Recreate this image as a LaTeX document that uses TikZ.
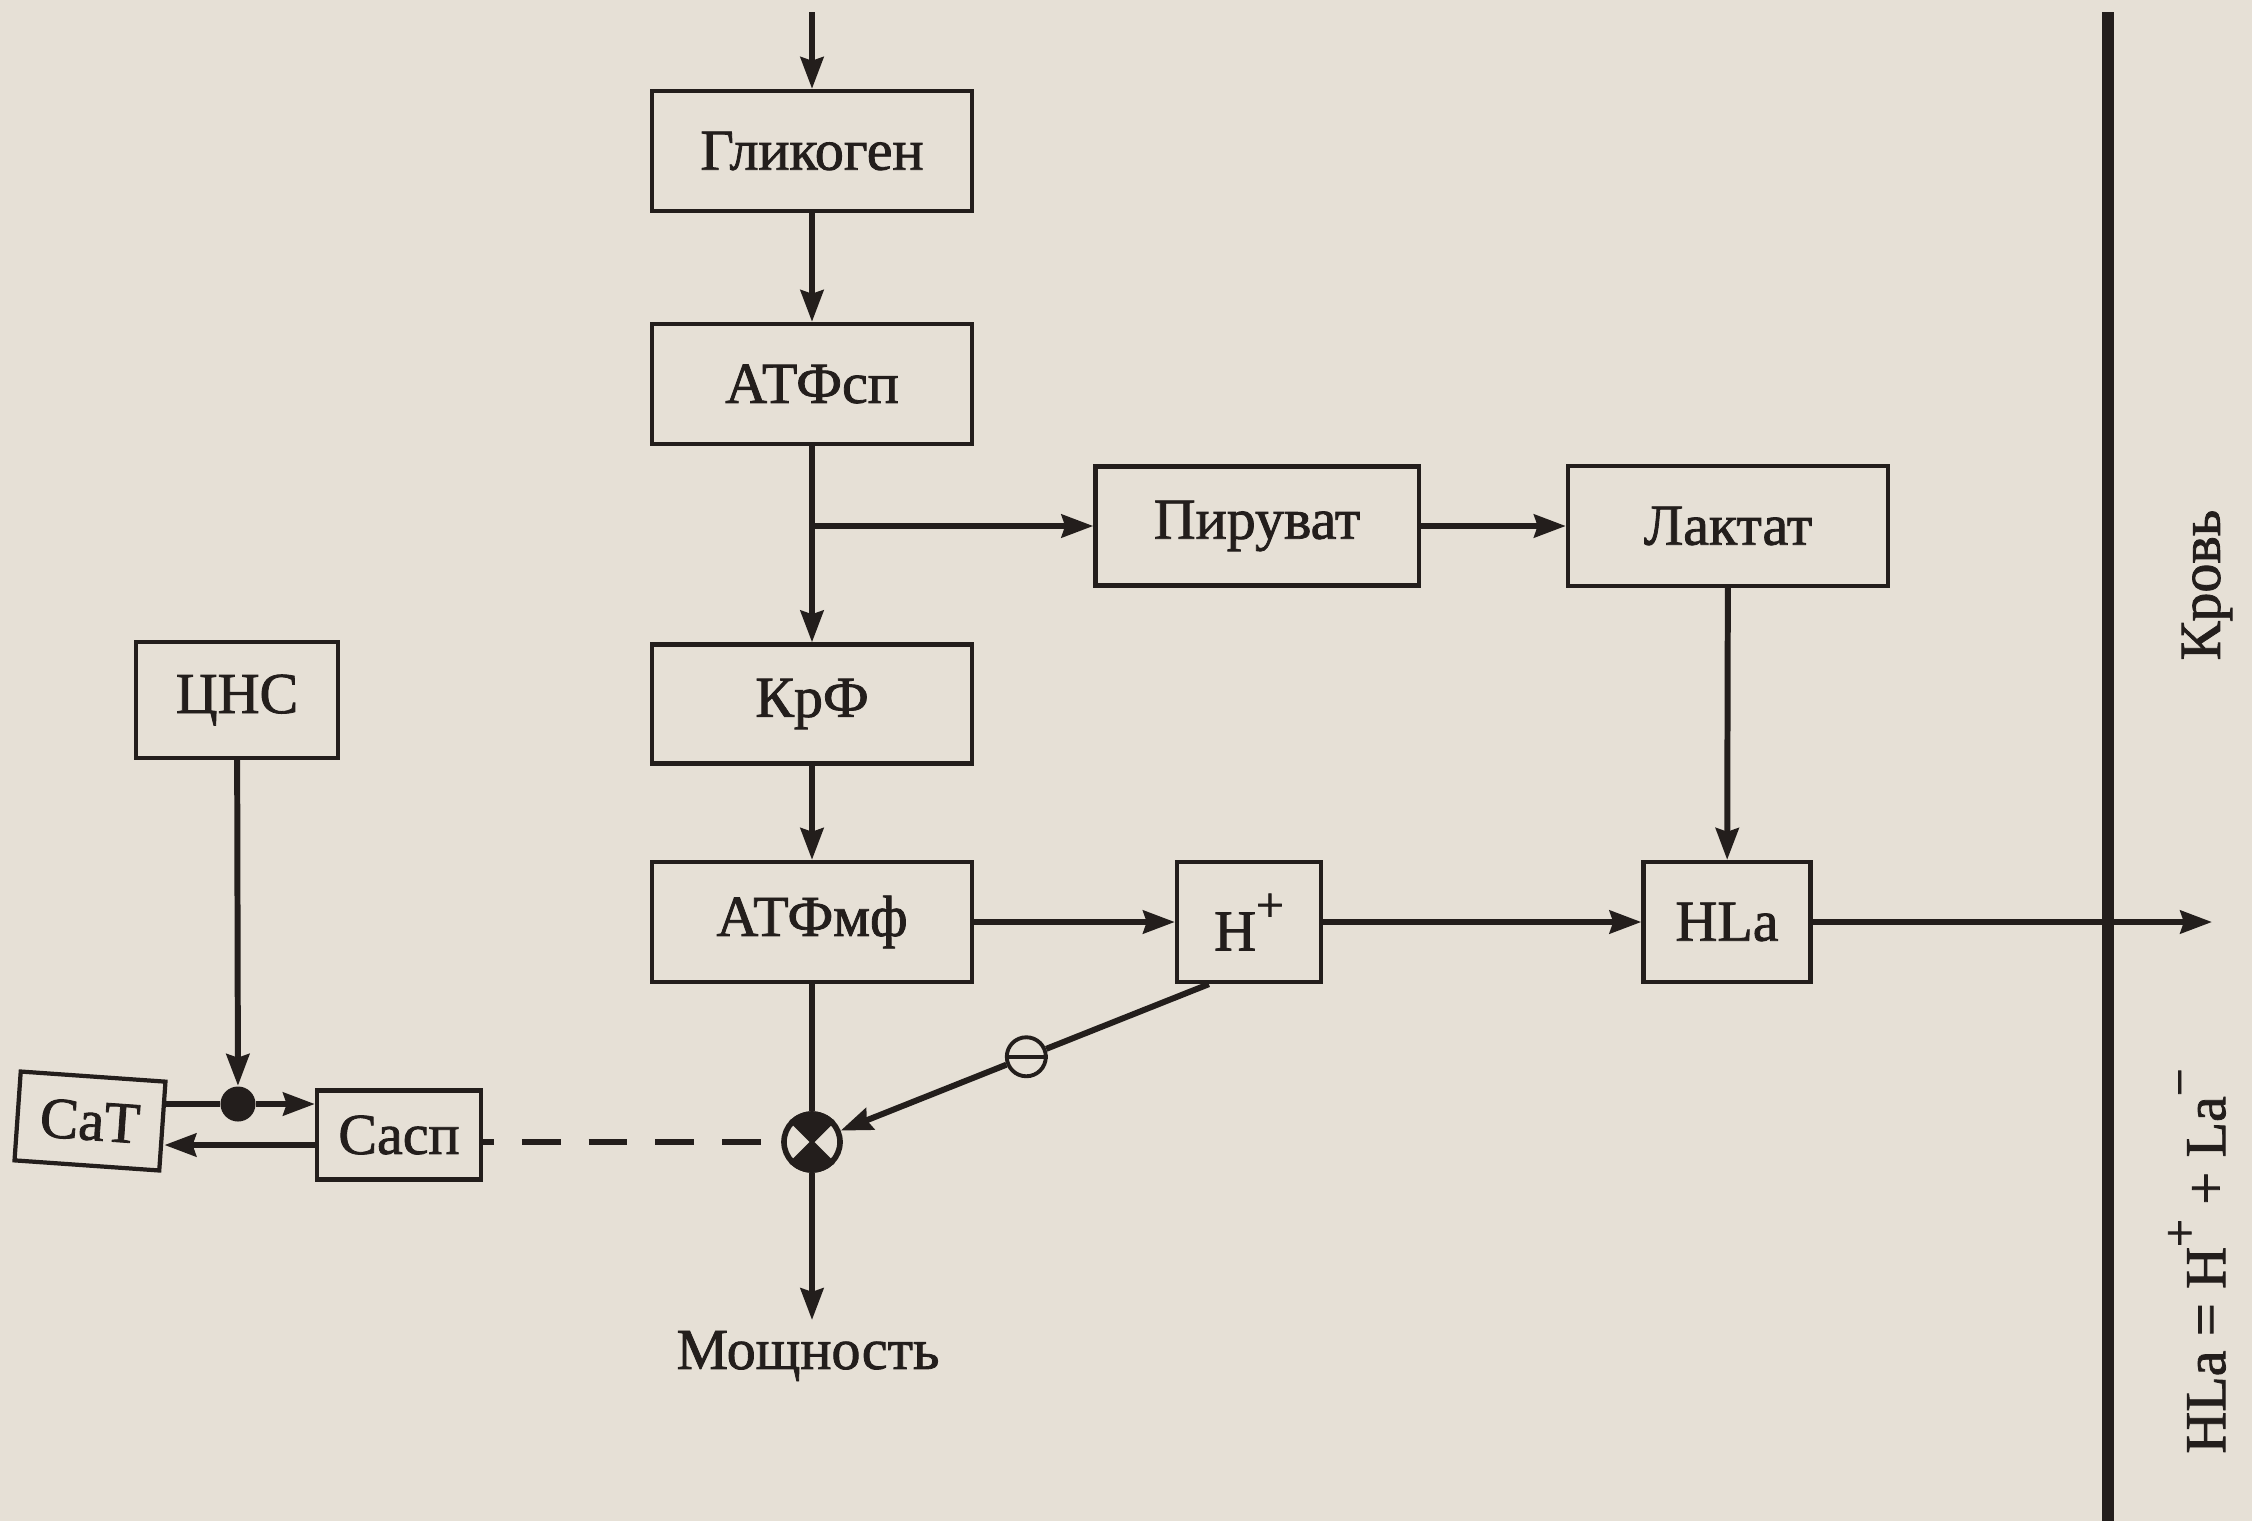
\documentclass[tikz,border=0pt]{standalone}
\usepackage{fontspec}
\setmainfont{Liberation Serif}[FakeBold=1.4]
\usetikzlibrary{arrows.meta,calc}
\definecolor{bg}{RGB}{230,224,214}
\definecolor{ink}{RGB}{35,30,28}
\newcommand\supx[1]{\raisebox{0.5em}{\fontsize{14}{14}\selectfont #1}}
\begin{document}
\begin{tikzpicture}[x=0.01cm,y=-0.01cm,
 box/.style={draw=ink,line width=1.2pt,minimum width=3.2cm,minimum height=1.2cm,inner sep=0pt,font=\fontsize{16.5}{19}\selectfont,text=ink},
 arr/.style={draw=ink,line width=1.7pt,-{Stealth[length=9pt,width=6.5pt,inset=1pt]}},
 ln/.style={draw=ink,line width=1.7pt},
 lbl/.style={font=\fontsize{16.5}{19}\selectfont,text=ink,inner sep=0pt}]
\fill[bg] (0,0) rectangle (2252,1521);
\useasboundingbox (0,0) rectangle (2252,1521);
% boxes
\node[box] (glik) at (812,151) {Гликоген};
\node[box] (atfsp) at (812,384) {АТФсп};
\node[box,minimum width=3.23cm,minimum height=1.19cm] (pir) at (1257,526) {Пируват};
\node[box] (lakt) at (1728,526) {Лактат};
\node[box,minimum height=1.19cm] (krf) at (812,704) {КрФ};
\node[box,minimum width=2.02cm,minimum height=1.16cm] (cns) at (237,700) {ЦНС};
\node[box] (atfmf) at (812,922) {АТФмф};
\node[box,minimum width=1.44cm] (hp) at (1249,922) {H\supx{+}};
\node[box,minimum width=1.67cm] (hla) at (1727,922) {HLa};
\node[box,minimum width=1.64cm,minimum height=0.89cm] (casp) at (399,1135) {Сасп};
\node[box,minimum width=1.45cm,minimum height=0.89cm,rotate=-4] (cat) at (90,1121) {CaT};
% special nodes
\node[circle,draw=ink,line width=1.6pt,fill=bg,minimum size=0.56cm,inner sep=0pt] (mix) at (812,1142) {};
\fill[ink] (mix.center) -- (mix.135) -- (mix.120) -- (mix.105) -- (mix.90) -- (mix.75) -- (mix.60) -- (mix.45) -- cycle;
\fill[ink] (mix.center) -- (mix.225) -- (mix.240) -- (mix.255) -- (mix.270) -- (mix.285) -- (mix.300) -- (mix.315) -- cycle;
\draw[ink,line width=1pt] (mix.north west) -- (mix.south east) (mix.north east) -- (mix.south west);
\node[circle,fill=ink,minimum size=0.35cm,inner sep=0pt] (dot) at (238,1104) {};
\coordinate (hps) at ($(hp.south west)+(34,0)$);
\node[circle,draw=ink,line width=1.1pt,fill=bg,minimum size=0.39cm,inner sep=0pt] (neg) at ($(hps)!0.46!(mix)$) {};
% connectors
\coordinate (top) at (812,12);
\draw[arr] (top) -- (glik);
\draw[arr] (glik) -- (atfsp);
\draw[arr] (atfsp) -- (krf);
\coordinate (br) at (812,526);
\draw[arr] (br) -- (pir);
\draw[arr] (pir) -- (lakt);
\draw[arr] (krf) -- (atfmf);
\draw[arr] (atfmf) -- (hp);
\draw[arr] (hp) -- (hla);
\draw[arr] (lakt) -- (hla);
\coordinate (out) at (2212,922);
\draw[arr] (hla) -- (out);
\draw[ln] (atfmf) -- (mix);
\coordinate (pow) at (812,1320);
\draw[arr] (mix) -- (pow);
\draw[ln] (hps) -- (neg);
\draw[arr] (neg) -- (mix);
\draw[ink,line width=1.1pt] (neg.west) -- (neg.east);
\draw[ink,line width=1.8pt,dash pattern=on 11pt off 8pt,dash phase=8pt] (casp.east |- mix) -- (mix);
\draw[ln] (cat.east |- dot) -- (dot);
\draw[arr] (dot) -- (casp.west |- dot);
\coordinate (lw) at ($(casp.west)+(0,10)$);
\draw[arr] (lw) -- (cat.east |- lw);
\draw[arr] (cns) -- (dot);
% blood boundary
\draw[ink,line width=3.6pt] (2108,12) -- (2108,1521);
% labels
\node[lbl] (mosh) at (808,1356) {Мощность};
\node[lbl,rotate=90] (krov) at (2207,585) {Кровь};
\node[lbl,rotate=90] (eq) at (2197,1261) {HLa = H\supx{+} + La\supx{−}};
\end{tikzpicture}
\end{document}
